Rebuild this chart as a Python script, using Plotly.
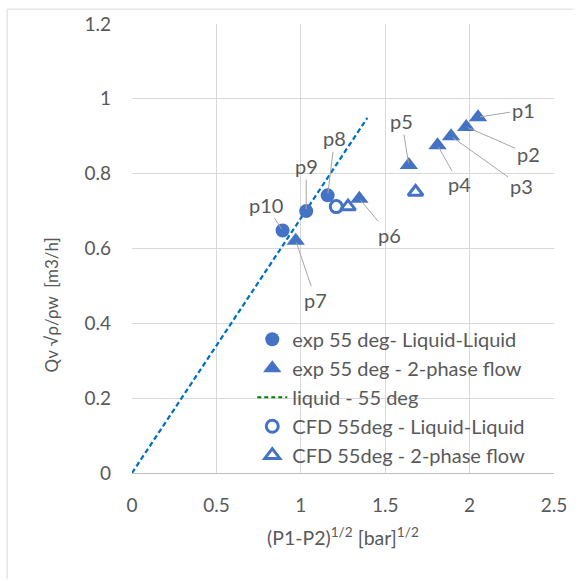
import plotly.graph_objects as go

# Experimental points, 55 deg
exp_ll_x = [1.159, 1.032, 0.892]
exp_ll_y = [0.742, 0.700, 0.648]
exp_ll_names = ["p8", "p9", "p10"]

exp_tp_x = [2.05, 1.98, 1.89, 1.81, 1.64, 1.347, 0.97]
exp_tp_y = [0.951, 0.925, 0.900, 0.876, 0.823, 0.733, 0.621]
exp_tp_names = ["p1", "p2", "p3", "p4", "p5", "p6", "p7"]

# Liquid-only reference line
liq_x = [0.0, 1.394]
liq_y = [0.0, 0.949]

# CFD results
cfd_ll_x = [1.21]
cfd_ll_y = [0.712]
cfd_tp_x = [1.28, 1.68]
cfd_tp_y = [0.712, 0.751]

# Label offsets (pixels) for point labels
label_offsets = {
    "p1": (45, -7), "p2": (62, 27), "p3": (70, 50), "p4": (22, 39),
    "p5": (-7, -44), "p6": (30, 36), "p7": (20, 59),
    "p8": (7, -57), "p9": (0, -45), "p10": (-17, -26),
}

x_ticks = [0, 0.5, 1, 1.5, 2, 2.5]
y_ticks = [0, 0.2, 0.4, 0.6, 0.8, 1, 1.2]

BLUE = "#4472C4"
LINE_BLUE = "#0070C0"
TXT = "#595959"
FONT = "Lato"

# plot area in pixels
L, R, T, B = 131.5, 559, 19, 473
PW, PH = R - L, B - T

fig = go.Figure()

fig.add_trace(go.Scatter(
    x=liq_x, y=liq_y, mode="lines", showlegend=False,
    line=dict(color=LINE_BLUE, width=2.25, dash="5px,3px"),
))
fig.add_trace(go.Scatter(
    x=exp_ll_x, y=exp_ll_y, mode="markers", name="exp 55 deg- Liquid-Liquid",
    marker=dict(symbol="circle", size=14, color=BLUE),
))
fig.add_trace(go.Scatter(
    x=exp_tp_x, y=exp_tp_y, mode="markers", name="exp 55 deg - 2-phase flow",
    marker=dict(symbol="triangle-up", size=16, color=BLUE),
))
fig.add_trace(go.Scatter(
    x=[None], y=[None], mode="lines", name="liquid - 55 deg",
    line=dict(color="#008000", width=2, dash="4px,3px"),
))
fig.add_trace(go.Scatter(
    x=cfd_ll_x, y=cfd_ll_y, mode="markers", name="CFD 55deg - Liquid-Liquid",
    marker=dict(symbol="circle-open", size=12, color=BLUE, line=dict(width=3, color=BLUE)),
))
fig.add_trace(go.Scatter(
    x=cfd_tp_x, y=cfd_tp_y, mode="markers", name="CFD 55deg - 2-phase flow",
    marker=dict(symbol="triangle-up-open", size=13, color=BLUE, line=dict(width=3, color=BLUE)),
))

annotations = []
for xs, ys, names in ((exp_tp_x, exp_tp_y, exp_tp_names), (exp_ll_x, exp_ll_y, exp_ll_names)):
    for x, y, n in zip(xs, ys, names):
        ax, ay = label_offsets[n]
        annotations.append(dict(
            x=x, y=y, xref="x", yref="y", text=n, showarrow=True,
            ax=ax, ay=ay, arrowhead=0, arrowwidth=1, arrowcolor="#a6a6a6",
            standoff=2, startstandoff=0,
            font=dict(family=FONT, size=20, color=TXT),
        ))

# axis titles
annotations.append(dict(
    text="Qv \u221a\u03c1/\u03c1w  [m3/h]", xref="paper", yref="paper",
    x=(50 - L) / PW, y=(B - 303) / PH, xanchor="center", yanchor="middle",
    textangle=-90, showarrow=False,
    font=dict(family=FONT, size=17, color=TXT),
))
annotations.append(dict(
    text="(P1-P2)<sup>1/2</sup> [bar]<sup>1/2</sup>", xref="paper", yref="paper",
    x=0.5, y=(B - 537) / PH, xanchor="center", yanchor="middle",
    showarrow=False,
    font=dict(family=FONT, size=19.5, color=TXT),
))

fig.update_layout(
    width=579, height=581,
    margin=dict(l=L, r=579 - R, t=T, b=581 - B),
    paper_bgcolor="white", plot_bgcolor="white",
    font=dict(family=FONT, size=16, color=TXT),
    annotations=annotations,
    legend=dict(
        x=0.285, y=(B - 318) / PH, xanchor="left", yanchor="top",
        bgcolor="rgba(0,0,0,0)", font=dict(family=FONT, size=20, color=TXT),
        traceorder="normal",
    ),
    shapes=[
        dict(type="line", xref="paper", yref="paper",
             x0=(5 - L) / PW, x1=(578 - L) / PW,
             y0=1 + (T - 4) / PH, y1=1 + (T - 4) / PH,
             line=dict(color="#d9d9d9", width=1)),
        dict(type="line", xref="paper", yref="paper",
             x0=(5 - L) / PW, x1=(5 - L) / PW,
             y0=1 + (T - 4) / PH, y1=-(580 - B) / PH,
             line=dict(color="#d9d9d9", width=1)),
    ],
)

fig.update_xaxes(
    range=[0, 2.5], tickvals=x_ticks, ticktext=[f"{v:g}" for v in x_ticks],
    showgrid=True, gridcolor="#d9d9d9", gridwidth=1,
    showline=True, linecolor="#bfbfbf", linewidth=1, zeroline=False,
    ticks="", ticklabelstandoff=15,
    tickfont=dict(family=FONT, size=19, color=TXT),
)
fig.update_yaxes(
    range=[0, 1.2], tickvals=y_ticks, ticktext=[f"{v:g}" for v in y_ticks],
    showgrid=True, gridcolor="#d9d9d9", gridwidth=1,
    showline=False, zeroline=False,
    ticks="", ticklabelstandoff=20,
    tickfont=dict(family=FONT, size=19, color=TXT),
)

fig.write_html("out.html")
